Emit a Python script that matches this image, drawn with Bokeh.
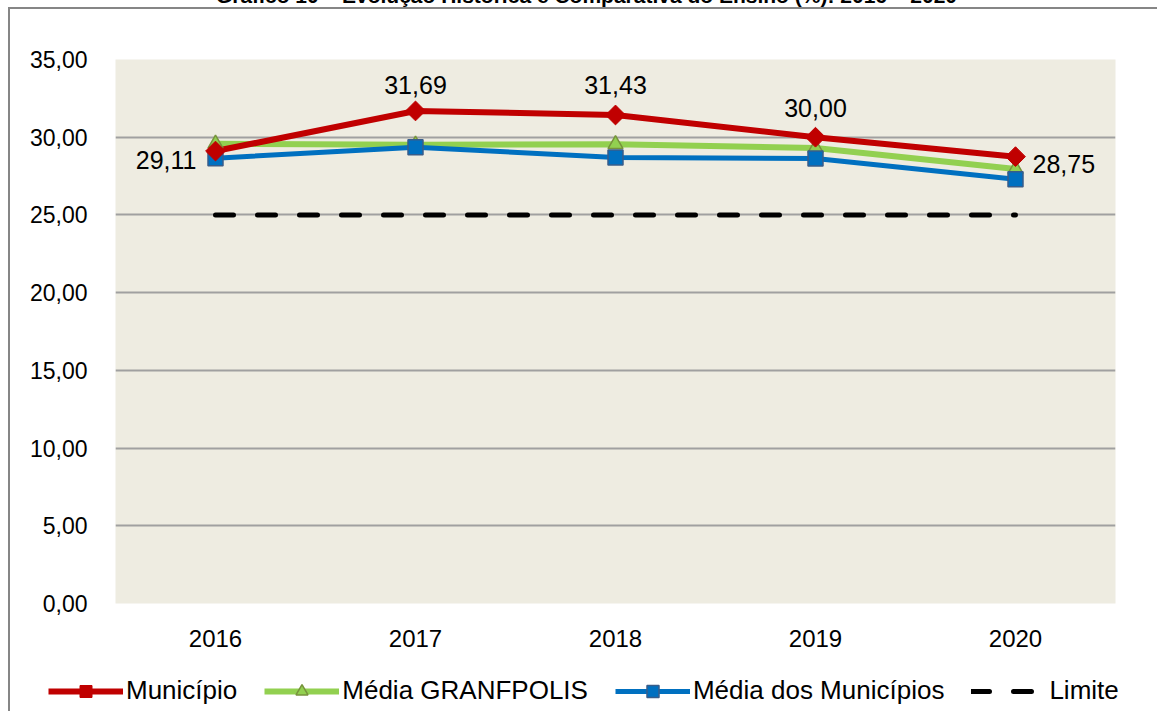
import math
from bokeh.plotting import figure
from bokeh.layouts import column
from bokeh.models import (ColumnDataSource, FactorRange, Range1d, CustomJSTickFormatter,
                          Legend, LegendItem, LabelSet, FixedTicker, Div)
from bokeh.core.properties import value
from bokeh.embed import file_html
from bokeh.resources import INLINE

title_text = "Gráfico 10 – Evolução Histórica e Comparativa do Ensino (%): 2016 – 2020"
years = ["2016", "2017", "2018", "2019", "2020"]
municipio = [29.11, 31.69, 31.43, 30.00, 28.75]
media_granfpolis = [29.58, 29.52, 29.55, 29.30, 27.95]
media_municipios = [28.65, 29.36, 28.69, 28.63, 27.30]
limite = [25.0, 25.0, 25.0, 25.0, 25.0]
y_ticks = [0, 5, 10, 15, 20, 25, 30, 35]
series_names = ["Município", "Média GRANFPOLIS", "Média dos Municípios", "Limite"]

FONT = "Liberation Sans"
BORDER = "2px solid #868686"

# styles
MUN = dict(line_color="#C00000", line_width=6)
GRAN = dict(line_color="#92D050", line_width=6)
MED = dict(line_color="#0070C0", line_width=5)
LIM = dict(line_color="black", line_width=5, line_dash="18 24", line_cap="round")
MUN_M = dict(marker="square", angle=math.pi / 4, fill_color="#C00000", line_color="#C00000")
GRAN_M = dict(marker="triangle", fill_color="#92D050", line_color="#77933C", line_width=1.5)
MED_M = dict(marker="square", fill_color="#0070C0", line_color="#385D8A", line_width=1.5)

title = Div(text=f'<div style="position:relative; top:-15px; left:7px; width:1159px; '
                 f'text-align:center; font-family:{FONT}; font-weight:bold; font-size:21px; '
                 f'line-height:21px; white-space:nowrap; color:black;">{title_text}</div>',
            width=1159, height=7, margin=0, styles={"overflow": "hidden"})

p = figure(width=1149, height=651,
           x_range=FactorRange(factors=years, range_padding=0),
           y_range=Range1d(0, 35), output_backend="svg", toolbar_location=None,
           min_border_left=105, min_border_right=44, min_border_top=50, min_border_bottom=57)
p.margin = (0, 0, 0, 8)
p.styles = {"border-left": BORDER, "border-top": BORDER}
p.background_fill_color = "#EEECE1"
p.border_fill_color = "white"
p.outline_line_color = None

src = ColumnDataSource(dict(x=years, mun=municipio, gran=media_granfpolis,
                            med=media_municipios, lim=limite,
                            lbl=[f"{v:.2f}".replace(".", ",") for v in municipio]))

p.line("x", "lim", source=src, **LIM)
p.line("x", "gran", source=src, **GRAN)
p.line("x", "med", source=src, **MED)
p.line("x", "mun", source=src, **MUN)
p.scatter("x", "gran", source=src, size=15, **GRAN_M)
p.scatter("x", "med", source=src, size=15, **MED_M)
p.scatter("x", "mun", source=src, size=14, **MUN_M)

# data labels
label_dx = [-19, 0, 0, 0, 17]
label_dy = [-9, 26, 30, 29, -7]
label_align = ["right", "center", "center", "center", "left"]
src.data["dx"] = label_dx
src.data["dy"] = label_dy
src.data["al"] = label_align
labels = LabelSet(x="x", y="mun", text="lbl", source=src, x_offset="dx", y_offset="dy",
                  text_align="al", text_baseline="middle", text_font=value(FONT),
                  text_font_size="25px", text_color="black")
p.add_layout(labels)

# axes
p.yaxis.ticker = FixedTicker(ticks=y_ticks)
p.yaxis.formatter = CustomJSTickFormatter(code="return tick.toFixed(2).replace('.', ',');")
for ax in (p.xaxis, p.yaxis):
    ax.axis_line_color = None
    ax.major_tick_line_color = None
    ax.minor_tick_line_color = None
    ax.major_label_text_font = FONT
    ax.major_label_text_color = "black"
p.yaxis.major_label_text_font_size = "23px"
p.xaxis.major_label_text_font_size = "24px"
p.yaxis.major_label_standoff = 22
p.xaxis.major_label_standoff = 20

p.xgrid.grid_line_color = None
p.ygrid.ticker = FixedTicker(ticks=y_ticks)
p.ygrid.grid_line_color = "#A0A0A0"
p.ygrid.grid_line_width = 2

# legend strip (separate root so its frame spans the full width): the same series
# drawn through a y-range that keeps them out of view, so only their keys show
lg = figure(width=1149, height=53, x_range=FactorRange(factors=years, range_padding=0),
            y_range=Range1d(-20, -10), x_axis_type=None, y_axis_type=None,
            output_backend="svg", toolbar_location=None, min_border=0)
lg.margin = (0, 0, 0, 8)
lg.styles = {"border-left": BORDER}
lg.grid.visible = False
lg.outline_line_color = None
lg.background_fill_color = "white"
lg.border_fill_color = "white"

k_mun_l = lg.line("x", "mun", source=src, **MUN)
k_mun_m = lg.scatter("x", "mun", source=src, **MUN_M)
k_gran_l = lg.line("x", "gran", source=src, **GRAN)
k_gran_m = lg.scatter("x", "gran", source=src, **GRAN_M)
k_med_l = lg.line("x", "med", source=src, **MED)
k_med_m = lg.scatter("x", "med", source=src, **MED_M)
k_lim = lg.line("x", "lim", source=src, **LIM)

legend = Legend(items=[
    LegendItem(label=series_names[0], renderers=[k_mun_l, k_mun_m]),
    LegendItem(label=series_names[1], renderers=[k_gran_l, k_gran_m]),
    LegendItem(label=series_names[2], renderers=[k_med_l, k_med_m]),
    LegendItem(label=series_names[3], renderers=[k_lim]),
], orientation="horizontal", location=(38, 5))
legend.glyph_width = 75
legend.glyph_height = 30
legend.label_standoff = 3
legend.spacing = 27
legend.label_text_font = FONT
legend.label_text_font_size = "26px"
legend.label_text_color = "black"
legend.border_line_color = None
legend.background_fill_alpha = 0
legend.margin = 0
legend.padding = 0
lg.add_layout(legend)

layout = column(title, p, spacing=0, margin=0)
open("out.html", "w").write(file_html([layout, lg], INLINE))
